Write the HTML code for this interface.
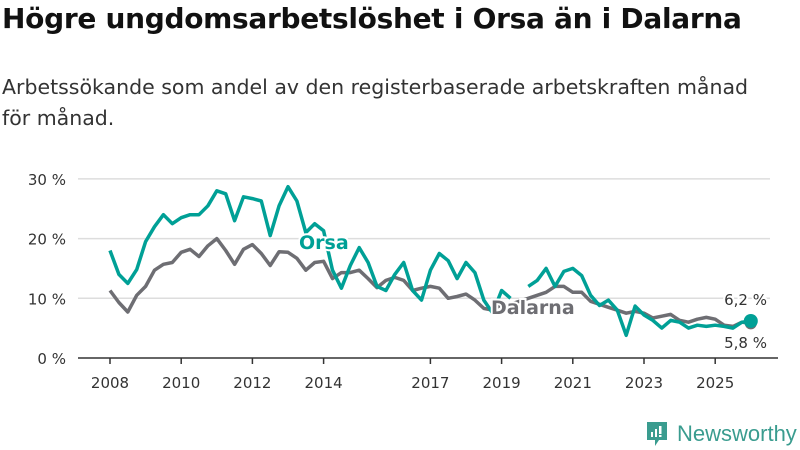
<!DOCTYPE html>
<html><head><meta charset="utf-8"><style>
body{margin:0;width:800px;height:450px;background:#fff;font-family:"DejaVu Sans","Liberation Sans",sans-serif;overflow:hidden;position:relative}
h1{position:absolute;left:2px;top:2px;margin:0;font-size:28px;font-weight:bold;color:#111;letter-spacing:-0.3px;white-space:nowrap}
p{position:absolute;left:2px;top:72px;margin:0;font-size:20.5px;line-height:31px;color:#333;width:795px;white-space:nowrap}
svg{position:absolute;left:0;top:0}
</style></head><body>
<h1>Högre ungdomsarbetslöshet i Orsa än i Dalarna</h1>
<p>Arbetssökande som andel av den registerbaserade arbetskraften månad<br>för månad.</p>
<svg id="c" width="800" height="450"></svg>
<script>
const years=[2008,2008.25,2008.5,2008.75,2009,2009.25,2009.5,2009.75,2010,2010.25,2010.5,2010.75,2011,2011.25,2011.5,2011.75,2012,2012.25,2012.5,2012.75,2013,2013.25,2013.5,2013.75,2014,2014.25,2014.5,2014.75,2015,2015.25,2015.5,2015.75,2016,2016.25,2016.5,2016.75,2017,2017.25,2017.5,2017.75,2018,2018.25,2018.5,2018.75,2019,2019.25,2019.5,2019.75,2020,2020.25,2020.5,2020.75,2021,2021.25,2021.5,2021.75,2022,2022.25,2022.5,2022.75,2023,2023.25,2023.5,2023.75,2024,2024.25,2024.5,2024.75,2025,2025.25,2025.5,2025.75,2026];
const orsa=[18,14,12.5,14.8,19.5,22,24,22.5,23.5,24,24,25.5,28,27.5,23,27,26.7,26.3,20.5,25.5,28.7,26.3,21,22.5,21.3,14.7,11.7,15.5,18.5,16,12,11.3,14,16,11.3,9.7,14.7,17.5,16.3,13.3,16,14.3,9.7,7.5,11.3,10,null,12,13,15,12,14.5,15,13.8,10.5,8.8,9.7,8,3.8,8.7,7.2,6.3,5,6.3,6,5,5.5,5.3,5.5,5.3,5,6,6.2];
const dalarna=[11.3,9.3,7.7,10.5,12,14.7,15.7,16,17.7,18.2,17,18.8,20,18,15.7,18.2,19,17.5,15.5,17.8,17.7,16.7,14.7,16,16.2,13.3,14.3,14.3,14.7,13.3,11.8,13,13.5,13,11.3,11.7,12,11.7,10,10.3,10.7,9.7,8.3,8,9,9,9.5,10,10.5,11,12,12,11,11,9.5,9,8.5,8,7.5,7.8,7.5,6.7,7,7.3,6.3,6,6.5,6.8,6.5,5.5,5.3,6,5.8];
const yTicks=[0,10,20,30];
const xTicks=[2008,2010,2012,2014,2017,2019,2021,2023,2025];
const X=v=>110+(v-2008)*35.6, Y=v=>358-v*5.97;
const svg=document.getElementById('c'),NS='http://www.w3.org/2000/svg';
function mk(t,a){const e=document.createElementNS(NS,t);for(const k in a)e.setAttribute(k,a[k]);svg.appendChild(e);return e;}
yTicks.forEach(t=>{
 if(t>0){const g=mk('line',{x1:78,x2:770,y1:Y(t),y2:Y(t),stroke:'#ddd','stroke-width':1.5});
 
 }
 const l=mk('text',{x:66,y:Y(t)+6,'text-anchor':'end','font-size':15,fill:'#333'});l.textContent=t+' %';
 
 
});
const ax=mk('line',{x1:78,x2:778,y1:358,y2:358,stroke:'#333','stroke-width':1.5});


xTicks.forEach(t=>{
 const tk=mk('line',{x1:X(t),x2:X(t),y1:358,y2:364,stroke:'#333','stroke-width':1.5});
 
 
 const l=mk('text',{x:X(t),y:388,'text-anchor':'middle','font-size':15,fill:'#333'});l.textContent=t;
 
 
});
function path(arr){let d='',pen=false;arr.forEach((v,i)=>{if(v==null){pen=false;return;}d+=(pen?'L':'M')+X(years[i]).toFixed(1)+','+Y(v).toFixed(1);pen=true;});return d;}
const dl=mk('path',{d:path(dalarna),fill:'none',stroke:'#6e6e73','stroke-width':3.5,'stroke-linejoin':'round'});


const ol=mk('path',{d:path(orsa),fill:'none',stroke:'#00a096','stroke-width':3.5,'stroke-linejoin':'round'});


const n=years.length-1;
const dd=mk('circle',{cx:X(years[n]),cy:Y(dalarna[n]),r:6,fill:'#6e6e73'});


const od=mk('circle',{cx:X(years[n]),cy:Y(orsa[n]),r:7,fill:'#00a096'});


function lbl(x,y,s,fill,name,size,w,anchor){const t=mk('text',{x:x,y:y,'font-size':size,fill:fill,'font-weight':w,'text-anchor':anchor||'start',stroke:'#fff','stroke-width':4,'paint-order':'stroke'});t.textContent=s;
 
 }
lbl(299,249,'Orsa','#00a096','orsa-label',19,'bold');
lbl(491,314,'Dalarna','#6e6e73','dalarna-label',19,'bold');
lbl(767,305,'6,2 %','#333','orsa-end-value',15,'normal','end');
lbl(767,348,'5,8 %','#333','dalarna-end-value',15,'normal','end');
</script>
<div style="position:absolute;left:645px;top:420px;height:28px;display:flex;align-items:center">
<svg width="24" height="28" style="position:static"><path d="M2 2h20v18h-8l-4 6v-6H2z" fill="#3a9c8f"/><rect x="6" y="12" width="2" height="5" fill="#fff"/><rect x="10" y="9" width="2" height="8" fill="#fff"/><rect x="14" y="6" width="2.5" height="8" fill="#fff"/><rect x="14" y="15" width="2.5" height="2" fill="#fff"/></svg>
<span style="font-family:'Liberation Sans',sans-serif;font-size:22px;color:#3a9c8f;margin-left:8px">Newsworthy</span></div>
</body></html>
